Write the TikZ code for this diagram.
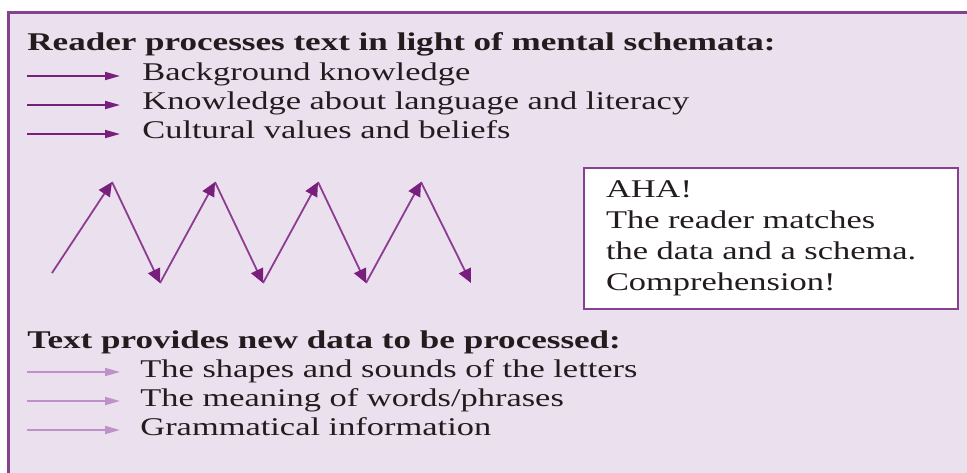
\documentclass[tikz,border=0pt]{standalone}
\usepackage{fontspec}
\setmainfont{Liberation Serif}[FakeStretch=1.35,BoldFeatures={FakeStretch=1.375}]
\usetikzlibrary{arrows.meta,positioning}

\definecolor{framefill}{RGB}{234,224,238}
\definecolor{frameline}{RGB}{135,65,145}
\definecolor{darkplum}{RGB}{120,30,125}
\definecolor{midplum}{RGB}{140,60,145}
\definecolor{paleplum}{RGB}{190,145,200}
\definecolor{inkblack}{RGB}{35,28,30}

\tikzset{
  heading/.style={anchor=base west,inner sep=0pt,font=\fontsize{12.75pt}{15pt}\selectfont\bfseries,text=inkblack},
  itemtext/.style={anchor=base west,inner sep=0pt,font=\fontsize{12.75pt}{15pt}\selectfont,text=inkblack},
  itemarrow/.style={line width=0.9pt,-{Triangle[length=7.5pt,width=4pt]}},
  zigarrow/.style={midplum,line width=0.9pt,-{Triangle[length=7pt,width=6.5pt,color=darkplum,fill=darkplum]}},
  ahabox/.style={draw=frameline,line width=1pt,fill=white,anchor=north west,
    minimum width=187pt,minimum height=70.5pt,inner xsep=11pt,
    text width=165pt,align=left,font=\fontsize{12.75pt}{15.5pt}\selectfont,text=inkblack}
}

\begin{document}
\begin{tikzpicture}[x=0.5pt,y=-0.5pt]
  \useasboundingbox (0,0) rectangle (967,472);
  \clip (0,0) rectangle (967,472);

  % outer frame
  \draw[frameline,line width=1.5pt,fill=framefill] (8,12) rectangle (990,500);

  % reader side
  \node[heading] (rhead) at (27,50) {Reader processes text in light of mental schemata:};
  \node[itemtext] (r1) at (142,80) {Background knowledge};
  \node[itemtext] (r2) at (142,109) {Knowledge about language and literacy};
  \node[itemtext] (r3) at (142,138) {Cultural values and beliefs};
  \coordinate (rs1) at (27,76);
  \coordinate (rs2) at (27,105);
  \coordinate (rs3) at (27,134);
  \foreach \i in {1,2,3}
    \draw[itemarrow,darkplum,shorten >=11pt] (rs\i) -- (rs\i -| r\i.west);

  % zigzag
  \coordinate (z0) at (52,273);
  \coordinate (z1) at (112,182);
  \coordinate (z2) at (160,283);
  \coordinate (z3) at (215,182);
  \coordinate (z4) at (263,283);
  \coordinate (z5) at (318,182);
  \coordinate (z6) at (366,283);
  \coordinate (z7) at (421,182);
  \coordinate (z8) at (471,283);
  \foreach \a/\b in {0/1,1/2,2/3,3/4,4/5,5/6,6/7,7/8}
    \draw[zigarrow] (z\a) -- (z\b);

  % AHA box
  \node[ahabox] (aha) at (583,167) {AHA!\\The reader matches\\the data and a schema.\\Comprehension!};

  % text side
  \node[heading] (thead) at (27,348) {Text provides new data to be processed:};
  \node[itemtext] (t1) at (140,377) {The shapes and sounds of the letters};
  \node[itemtext] (t2) at (140,406) {The meaning of words/phrases};
  \node[itemtext] (t3) at (140,435) {Grammatical information};
  \coordinate (ts1) at (27,372);
  \coordinate (ts2) at (27,401);
  \coordinate (ts3) at (27,430);
  \foreach \i in {1,2,3}
    \draw[itemarrow,paleplum,shorten >=10pt] (ts\i) -- (ts\i -| t\i.west);
\end{tikzpicture}
\end{document}
